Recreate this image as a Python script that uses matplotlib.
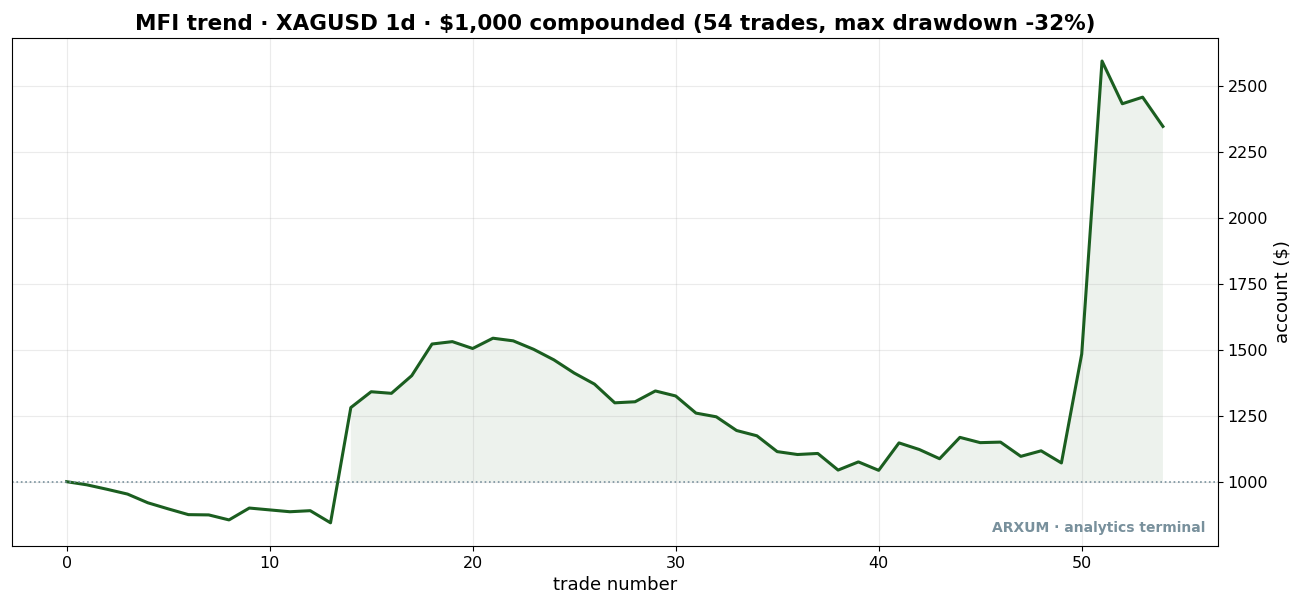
import numpy as np
import matplotlib
matplotlib.use('Agg')
from matplotlib import pyplot as plt

# equity curve, one value per trade
trades = list(range(55))
equity = [1000, 988, 971, 953, 920, 897, 875, 874, 855, 900,
          893, 886, 890, 844, 1281, 1341, 1335, 1402, 1522, 1531,
          1505, 1544, 1534, 1502, 1462, 1412, 1370, 1299, 1303, 1344,
          1325, 1260, 1246, 1194, 1174, 1114, 1103, 1107, 1044, 1075,
          1043, 1147, 1122, 1087, 1168, 1148, 1150, 1096, 1117, 1071,
          1484, 2595, 2433, 2458, 2347]
start = 1000

x = np.array(trades)
y = np.array(equity)

fig, ax = plt.subplots(figsize=(13.08, 6.12), dpi=100)
ax.plot(x, y, color='#1b5e20', lw=2.2)
ax.fill_between(x, start, y, where=y >= start, color='#1b5e20', alpha=0.08, lw=0)
ax.axhline(start, color='#78909c', ls=':', lw=1.2)

ax.yaxis.tick_right()
ax.yaxis.set_label_position('right')
ax.set_ylabel('account ($)', fontsize=13)
ax.set_xlabel('trade number', fontsize=13)
ax.tick_params(labelsize=11.5)
ax.grid(True, alpha=0.25)
ax.set_title('MFI trend · XAGUSD 1d · $1,000 compounded (54 trades, max drawdown -32%)',
             fontsize=15.5, fontweight='bold')
ax.text(0.99, 0.022, 'ARXUM · analytics terminal', transform=ax.transAxes,
        ha='right', va='bottom', fontsize=10, fontweight='bold', color='#78909c')

fig.subplots_adjust(left=0.009, right=0.931, top=0.938, bottom=0.108)
fig.savefig('out.png', dpi=100)
